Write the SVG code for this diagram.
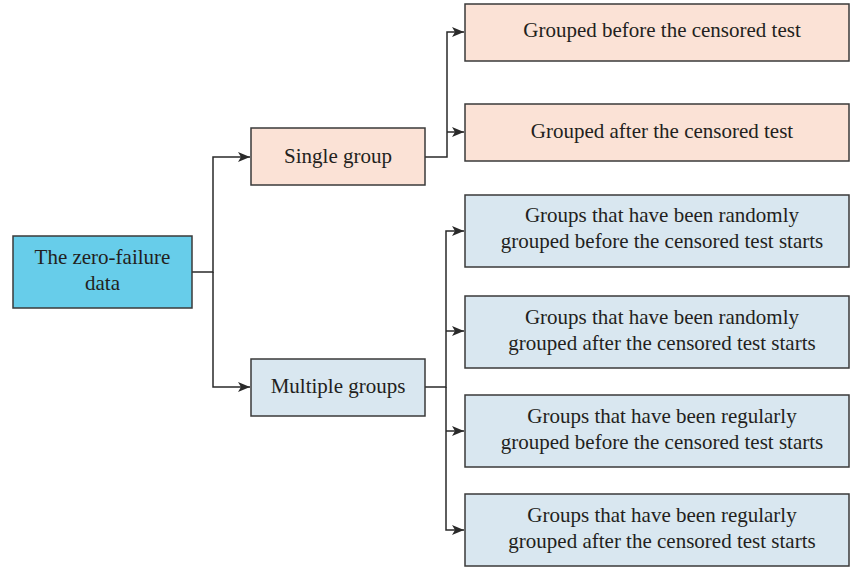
<svg xmlns="http://www.w3.org/2000/svg" width="851" height="569" viewBox="0 0 851 569">
<style>
.box{stroke:#3a3a3a;stroke-width:1.5}
.root{fill:#67cdea}
.peach{fill:#fbe2d6}
.blue{fill:#d9e7f0}
text{font-family:"Liberation Serif","Times New Roman",serif;font-size:21px;fill:#231f20;text-anchor:middle}
.conn{fill:none;stroke:#2a2a2a;stroke-width:1.5}
</style>
<defs>
<marker id="arr" viewBox="0 0 12 10" refX="12" refY="5" markerWidth="12" markerHeight="10" markerUnits="userSpaceOnUse" orient="auto">
<path d="M0,0 L12,5 L0,10 L3,5 Z" fill="#2a2a2a"/>
</marker>
</defs>
<g id="connectors">
<path class="conn" d="M192,272 H213 V157 H250" marker-end="url(#arr)"/>
<path class="conn" d="M213,272 V387 H250" marker-end="url(#arr)"/>
<path class="conn" d="M425,157 H447 V32 H464" marker-end="url(#arr)"/>
<path class="conn" d="M447,132 H464" marker-end="url(#arr)"/>
<path class="conn" d="M425,387 H446 V231 H464" marker-end="url(#arr)"/>
<path class="conn" d="M446,387 V530 H464" marker-end="url(#arr)"/>
<path class="conn" d="M446,331 H464" marker-end="url(#arr)"/>
<path class="conn" d="M446,431 H464" marker-end="url(#arr)"/>
</g>
<g id="root">
<rect class="box root" x="13" y="236" width="179" height="72"/>
<text x="102.5" y="264">The zero-failure</text>
<text x="102.5" y="290">data</text>
</g>
<g id="single">
<rect class="box peach" x="251" y="128" width="174" height="57"/>
<text x="338" y="163">Single group</text>
</g>
<g id="multiple">
<rect class="box blue" x="251" y="359" width="174" height="57"/>
<text x="338" y="393">Multiple groups</text>
</g>
<g id="s1">
<rect class="box peach" x="465" y="4" width="384" height="57"/>
<text x="662" y="37">Grouped before the censored test</text>
</g>
<g id="s2">
<rect class="box peach" x="465" y="104" width="384" height="57"/>
<text x="662" y="138">Grouped after the censored test</text>
</g>
<g id="m1">
<rect class="box blue" x="465" y="195" width="384" height="72"/>
<text x="662" y="222">Groups that have been randomly</text>
<text x="662" y="248">grouped before the censored test starts</text>
</g>
<g id="m2">
<rect class="box blue" x="465" y="296" width="384" height="72"/>
<text x="662" y="324">Groups that have been randomly</text>
<text x="662" y="350">grouped after the censored test starts</text>
</g>
<g id="m3">
<rect class="box blue" x="465" y="395" width="384" height="72"/>
<text x="662" y="423">Groups that have been regularly</text>
<text x="662" y="449">grouped before the censored test starts</text>
</g>
<g id="m4">
<rect class="box blue" x="465" y="494" width="384" height="72"/>
<text x="662" y="522">Groups that have been regularly</text>
<text x="662" y="548">grouped after the censored test starts</text>
</g>
</svg>
